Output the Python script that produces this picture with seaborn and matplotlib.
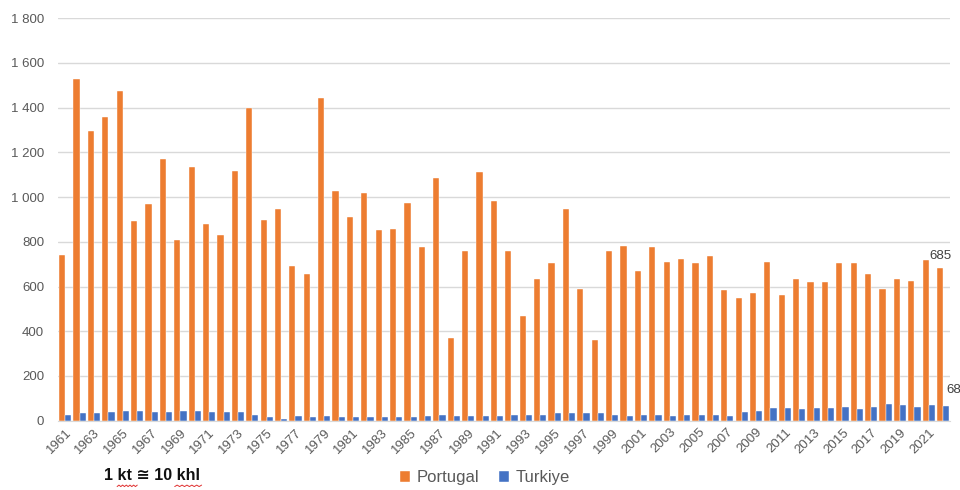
import matplotlib
matplotlib.use("Agg")
import matplotlib.pyplot as plt
from matplotlib.lines import Line2D
import seaborn as sns
import pandas as pd
import numpy as np

years = list(range(1961, 2023))

portugal = [740, 1527, 1297, 1358, 1473, 893, 971, 1171, 808, 1135,
            881, 832, 1115, 1400, 899, 947, 693, 656, 1443, 1026,
            911, 1020, 852, 856, 972, 778, 1086, 371, 759, 1111,
            984, 759, 470, 632, 705, 947, 590, 360, 759, 783,
            668, 777, 711, 723, 705, 735, 585, 549, 573, 711,
            561, 632, 620, 620, 705, 705, 656, 590, 632, 626,
            717, 685]

turkiye = [27, 33, 33, 39, 45, 45, 39, 39, 45, 45,
           39, 39, 39, 27, 15, 9, 21, 15, 21, 15,
           15, 15, 15, 15, 15, 21, 27, 21, 21, 21,
           21, 27, 27, 27, 33, 33, 33, 33, 27, 21,
           27, 27, 21, 27, 27, 27, 21, 39, 45, 57,
           57, 51, 57, 57, 63, 51, 63, 75, 69, 63,
           69, 68]

countries = ["Portugal", "Turkiye"]
colors = ["#ED7D31", "#4472C4"]

df = pd.DataFrame({
    "year": [str(y) for y in years] * 2,
    "value": portugal + turkiye,
    "country": ["Portugal"] * len(years) + ["Turkiye"] * len(years),
})

sns.set_style("white")
plt.rcParams["font.family"] = ["Liberation Sans", "DejaVu Sans"]

fig = plt.figure(figsize=(9.6, 4.9), dpi=100)
ax = fig.add_axes([0.0604, 0.1414, 0.9296, 0.8213])

sns.barplot(data=df, x="year", y="value", hue="country", palette=colors,
            width=0.86, gap=0, saturation=1, ax=ax, legend=True,
            edgecolor="white", linewidth=0.3)

ax.set_ylim(0, 1800)
ax.set_xlim(-0.5, len(years) - 0.5)
ax.set_yticks(range(0, 1801, 200))
ax.set_yticklabels([f"{v:,}".replace(",", " ") for v in range(0, 1801, 200)],
                   color="#595959", fontsize=9.5)
ax.yaxis.grid(True, color="#D9D9D9", linewidth=1)
ax.set_axisbelow(True)
for s in ["top", "right", "left"]:
    ax.spines[s].set_visible(False)
ax.spines["bottom"].set_color("#D9D9D9")
ax.tick_params(axis="y", length=0, pad=10)
ax.tick_params(axis="x", length=0, pad=4)

ticks = list(range(0, len(years), 2))
ax.set_xticks(ticks)
ax.set_xticklabels([str(years[i]) for i in ticks], rotation=45, ha="right",
                   rotation_mode="anchor", color="#595959", fontsize=9.5)
ax.set_xlabel("")
ax.set_ylabel("")

# data labels on the last year
p_last = ax.containers[0].patches[-1]
t_last = ax.containers[1].patches[-1]
ax.annotate(f"{portugal[-1]}", (p_last.get_x() + p_last.get_width() / 2, p_last.get_height()),
            xytext=(0, 4), textcoords="offset points", ha="center", va="bottom",
            color="#404040", fontsize=9.5, annotation_clip=False)
ax.annotate(f"{turkiye[-1]}", (t_last.get_x() + t_last.get_width() / 2, t_last.get_height()),
            xytext=(0, 7), textcoords="offset points", ha="left", va="bottom",
            color="#404040", fontsize=9.5, annotation_clip=False)

handles, labels = ax.get_legend_handles_labels()
ax.legend_.remove()
fig.legend(handles, labels, loc="center", bbox_to_anchor=(0.505, 0.025), ncol=2,
           frameon=False, fontsize=12, handlelength=0.6, handleheight=0.6,
           handletextpad=0.4, columnspacing=1.2, labelcolor="#595959")

fig.text(0.158, 0.03, "1 kt \u2245 10 khl", ha="center", va="center",
         fontsize=11.5, color="#111111", fontweight="bold")

# spell-check squiggles under "kt" and "khl"
for x0, x1 in [(0.122, 0.143), (0.182, 0.21)]:
    xs = np.linspace(x0, x1, 12)
    ys = 0.007 + 0.003 * (np.arange(12) % 2)
    fig.add_artist(Line2D(xs, ys, color="#E03030", linewidth=0.7))

fig.savefig("out.png", dpi=100)
